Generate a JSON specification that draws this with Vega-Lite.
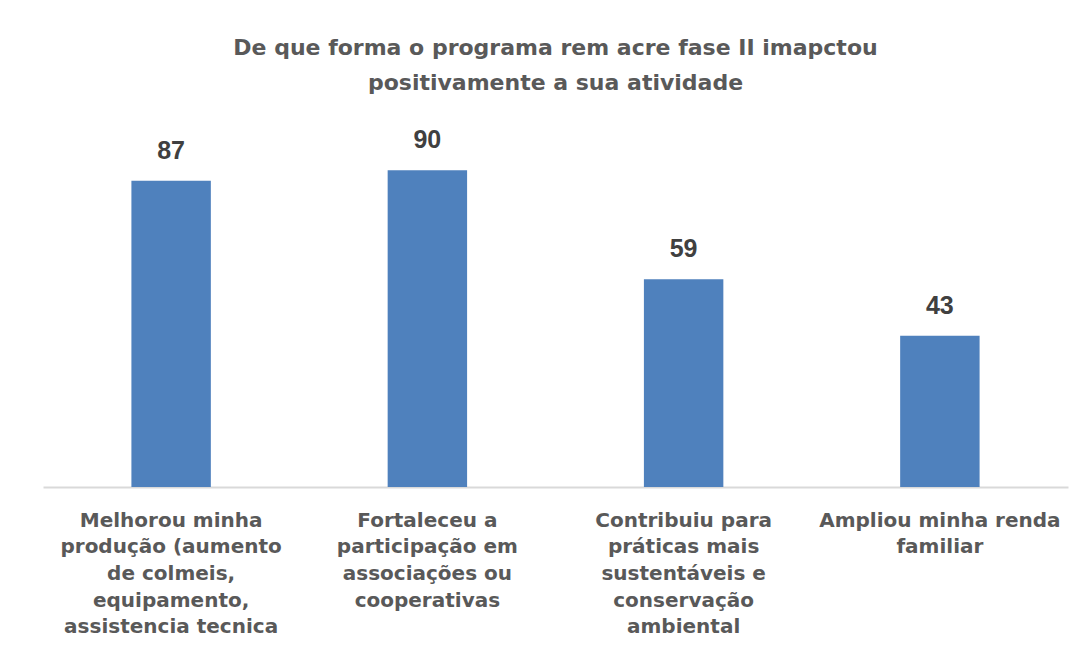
{
  "$schema": "https://vega.github.io/schema/vega-lite/v6.json",
  "autosize": {"type": "none"},
  "width": 1025,
  "height": 352,
  "padding": {"left": 43, "top": 135, "right": 23, "bottom": 166},
  "background": "#ffffff",
  "title": {
    "text": ["De que forma o programa rem acre fase II imapctou", "positivamente a sua atividade"],
    "font": "DejaVu Sans",
    "fontSize": 22,
    "fontWeight": "bold",
    "color": "#595959",
    "anchor": "middle",
    "lineHeight": 35,
    "offset": 33
  },
  "data": {
    "values": [
      {"label": "Melhorou minha|produção (aumento|de colmeis,|equipamento,|assistencia tecnica", "value": 87},
      {"label": "Fortaleceu a|participação em|associações ou|cooperativas", "value": 90},
      {"label": "Contribuiu para|práticas mais|sustentáveis e|conservação|ambiental", "value": 59},
      {"label": "Ampliou minha renda|familiar", "value": 43}
    ]
  },
  "encoding": {
    "x": {
      "field": "label",
      "type": "nominal",
      "sort": null,
      "scale": {"paddingInner": 0.69, "paddingOuter": 0.345},
      "axis": {
        "title": null,
        "labelAngle": 0,
        "labelExpr": "split(datum.label, '|')",
        "labelFont": "DejaVu Sans",
        "labelFontSize": 20,
        "labelFontWeight": "bold",
        "labelColor": "#595959",
        "labelLineHeight": 26.7,
        "labelPadding": 23,
        "labelLimit": 300,
        "ticks": false,
        "domainColor": "#d9d9d9",
        "domainWidth": 2
      }
    },
    "y": {
      "field": "value",
      "type": "quantitative",
      "scale": {"domain": [0, 100]},
      "axis": null
    }
  },
  "layer": [
    {"mark": {"type": "bar", "color": "#4F81BD"}},
    {
      "mark": {
        "type": "text",
        "baseline": "alphabetic",
        "dy": -22,
        "font": "Liberation Sans",
        "fontSize": 25,
        "fontWeight": "bold",
        "color": "#404040"
      },
      "encoding": {"text": {"field": "value", "type": "quantitative"}}
    }
  ],
  "config": {"view": {"stroke": null}}
}
